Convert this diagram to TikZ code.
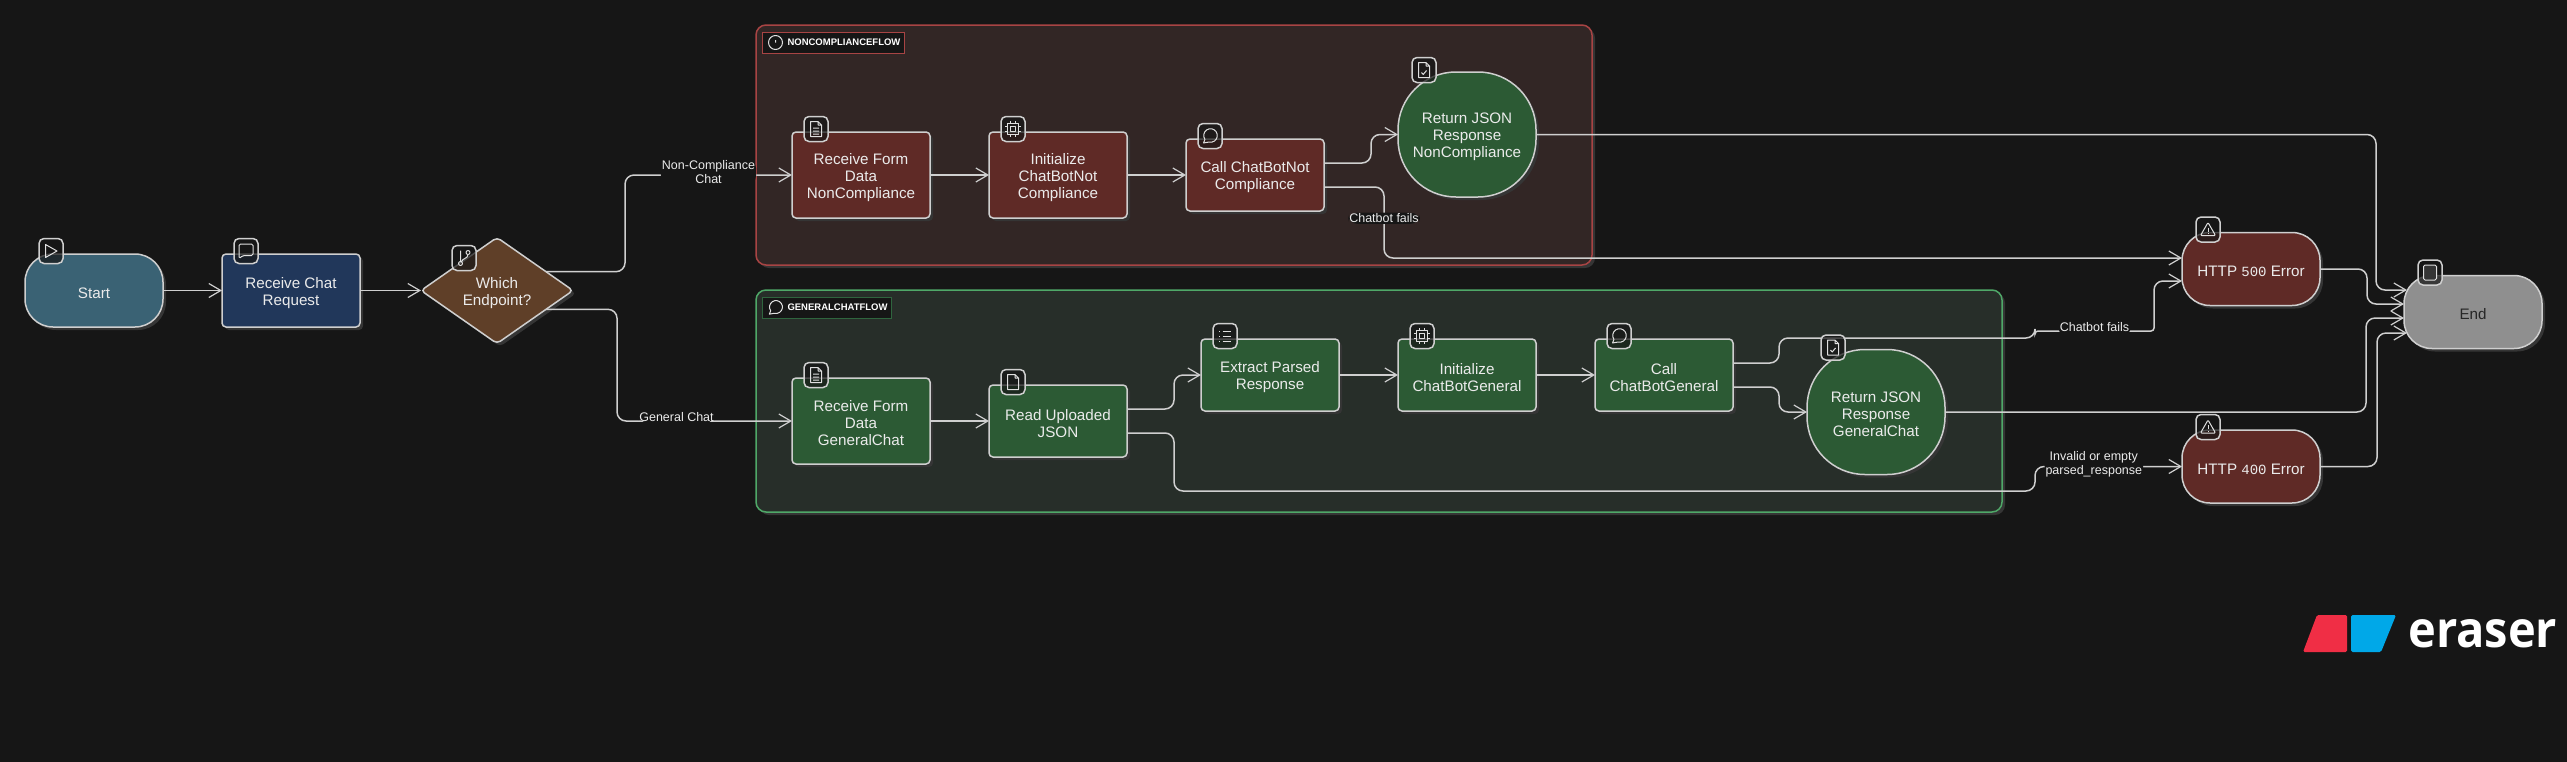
\documentclass[tikz,border=0pt]{standalone}
\usepackage{fontspec}
\usepackage{graphicx}
\setmainfont{Liberation Sans}
\newfontfamily\numfont{Liberation Mono}
\newfontfamily\logofont{Open Sans}
\usetikzlibrary{positioning,shapes.geometric,shadows,arrows.meta}
\definecolor{pagedark}{HTML}{161616}
\definecolor{edgegray}{HTML}{CFCFCF}
\definecolor{shadegray}{HTML}{353535}
\definecolor{startblue}{HTML}{3A6274}
\definecolor{navy}{HTML}{21375A}
\definecolor{brown}{HTML}{5F3F28}
\definecolor{darkred}{HTML}{5F2A26}
\definecolor{darkgreen}{HTML}{2C5A34}
\definecolor{endgray}{HTML}{8F8F8F}
\definecolor{flowred}{HTML}{322625}
\definecolor{flowgreen}{HTML}{272E29}
\definecolor{rimred}{HTML}{A84444}
\definecolor{rimgreen}{HTML}{4FA868}
\definecolor{logored}{HTML}{F02E45}
\definecolor{logoblue}{HTML}{00A8E8}
\newcommand{\topgap}{\rule{0pt}{15.5pt}}
\tikzset{
  base/.style={draw=edgegray,line width=1.5pt,text=white!92!black,align=center,inner sep=0pt,outer sep=0pt,
    font=\fontsize{15.2}{17}\selectfont,
    drop shadow={shadow xshift=3pt,shadow yshift=-3pt,fill=shadegray,opacity=1}},
  stepbox/.style={base,rectangle,rounded corners=4pt,minimum width=138pt,minimum height=#1},
  stepbox/.default=72pt,
  soft/.style={base,rectangle,rounded corners=28pt,minimum width=138pt,minimum height=73pt},
  blob/.style={base,rectangle,rounded corners=58pt,minimum width=138pt,minimum height=125pt,fill=darkgreen},
  flowbox/.style={rectangle,rounded corners=10pt,line width=1.5pt,outer sep=0pt,
    drop shadow={shadow xshift=3pt,shadow yshift=-3pt,fill=shadegray,opacity=1}},
  flowtag/.style={rectangle,anchor=north west,line width=.7pt,fill=pagedark,text=white,inner xsep=4pt,inner ysep=0pt,
    minimum height=21pt,outer sep=0pt,font=\bfseries\fontsize{9.5}{11}\selectfont},
  iconbox/.style={rectangle,rounded corners=5pt,draw=edgegray,line width=1.5pt,fill=pagedark,fill opacity=.72,
    minimum width=24pt,minimum height=25pt,inner sep=0pt,outer sep=0pt},
  glyph/.style={draw=white!88!black,line width=1pt,line join=round},
  flow/.style={->,draw=edgegray,line width=1.5pt,rounded corners=9pt},
  flowlabel/.style={text=white!92!black,fill=pagedark,align=center,inner sep=1pt,
    font=\fontsize{12.5}{14}\selectfont},
  >={Straight Barb[length=12pt,width=14pt,line width=1.2pt]},
  playicon/.pic={\draw[glyph] (-5.5,6.5) -- (6,0) -- (-5.5,-6.5) -- cycle;},
  chaticon/.pic={\draw[glyph,rounded corners=1.5pt] (-7,7) -- (7,7) -- (7,-4.5) -- (-3,-4.5) -- (-7,-7.5) -- cycle;},
  branchicon/.pic={\draw[glyph] (-3.5,-5.5) circle (2) (4,5.5) circle (2) (-3.5,7.5) -- (-3.5,-3.5)
    (4,3.5) .. controls (4,-1) and (-2,0) .. (-2.4,-3.8);},
  filetexticon/.pic={\draw[glyph] (-5.5,7.5) -- (2,7.5) -- (5.5,4) -- (5.5,-7.5) -- (-5.5,-7.5) -- cycle
    (2,7.5) -- (2,4) -- (5.5,4) (-3,1) -- (3,1) (-3,-2) -- (3,-2) (-3,-5) -- (3,-5);},
  fileicon/.pic={\draw[glyph] (-5.5,7.5) -- (2,7.5) -- (5.5,4) -- (5.5,-7.5) -- (-5.5,-7.5) -- cycle
    (2,7.5) -- (2,4) -- (5.5,4);},
  filecheckicon/.pic={\draw[glyph] (-5.5,7.5) -- (2,7.5) -- (5.5,4) -- (5.5,-7.5) -- (-5.5,-7.5) -- cycle
    (2,7.5) -- (2,4) -- (5.5,4) (-2.5,-2.5) -- (-.8,-4.5) -- (2.5,-.5);},
  cpuicon/.pic={\draw[glyph] (-5.5,-5.5) rectangle (5.5,5.5) (-2.5,-2.5) rectangle (2.5,2.5)
    (-2.5,5.5) -- (-2.5,8) (2.5,5.5) -- (2.5,8) (-2.5,-5.5) -- (-2.5,-8) (2.5,-5.5) -- (2.5,-8)
    (-5.5,2.5) -- (-8,2.5) (-5.5,-2.5) -- (-8,-2.5) (5.5,2.5) -- (8,2.5) (5.5,-2.5) -- (8,-2.5);},
  msgicon/.pic={\draw[glyph] (-6.5,-7) -- (-5.07,-3.4) arc[start angle=215,end angle=-105,radius=6.8] -- cycle;},
  listicon/.pic={\draw[glyph] (-2.5,5) -- (6,5) (-2.5,0) -- (6,0) (-2.5,-5) -- (6,-5)
    (-6,5) -- (-5,5) (-6,0) -- (-5,0) (-6,-5) -- (-5,-5);},
  alerticon/.pic={\draw[glyph,rounded corners=1pt] (0,7) -- (7.5,-6) -- (-7.5,-6) -- cycle;
    \draw[glyph] (0,2) -- (0,-2) (0,-3.6) -- (0,-4.2);},
  squareicon/.pic={\draw[glyph,fill=shadegray,rounded corners=1.5pt] (-6.5,-7.5) rectangle (6.5,7.5);},
  circleicon/.pic={\draw[glyph] (0,0) circle (7) (0,2.5) -- (0,0);}
}
\begin{document}
\begin{tikzpicture}[x=1pt,y=1pt,on grid]
    \useasboundingbox (0,0) rectangle (2567,-761);
    \fill[pagedark] (-3,3) rectangle (2570,-764);
    % the two flow frames
    \node[flowbox,draw=rimred,fill=flowred,minimum width=836pt,minimum height=240pt] (Flow_N) at (1174,-145) {};
    \node[flowbox,draw=rimgreen,fill=flowgreen,minimum width=1246pt,minimum height=222pt] (Flow_G) at (1379,-401) {};
    \node[flowtag,draw=rimred] (Tag_N) at ([xshift=6.5pt,yshift=-7pt]Flow_N.north west) {\hspace*{21pt}NONCOMPLIANCEFLOW};
    \node[flowtag,draw=rimgreen!60!black] (Tag_G) at ([xshift=6.5pt,yshift=-7pt]Flow_G.north west) {\hspace*{21pt}GENERALCHATFLOW};
    % left side
    \node[soft,fill=startblue] (Start) at (94,-290.5) {\topgap Start};
    \node[stepbox=73pt,fill=navy] (Recv) [right=197pt of Start] {\topgap Receive Chat\\Request};
    \node[base,diamond,aspect=1.43,rounded corners=4pt,fill=brown,minimum width=152pt,minimum height=106pt] (Which) [right=206pt of Recv] {\topgap Which\\Endpoint?};
    % upper flow
    \node[stepbox=86pt,fill=darkred] (Form_N) at (861,-175) {\topgap Receive Form\\Data\\NonCompliance};
    \node[stepbox=86pt,fill=darkred] (Init_N) [right=197pt of Form_N] {\topgap Initialize\\ChatBotNot\\Compliance};
    \node[stepbox,fill=darkred] (Call_N) [right=197pt of Init_N] {\topgap Call ChatBotNot\\Compliance};
    \node[blob] (Ret_N) [above right=40.5pt and 212pt of Call_N] {\topgap Return JSON\\Response\\NonCompliance};
    % lower flow
    \node[stepbox=86pt,fill=darkgreen] (Form_G) at (861,-421) {\topgap Receive Form\\Data\\GeneralChat};
    \node[stepbox,fill=darkgreen] (Read_G) [right=197pt of Form_G] {\topgap Read Uploaded\\JSON};
    \node[stepbox,fill=darkgreen] (Ext_G) [above right=46pt and 212pt of Read_G] {\topgap Extract Parsed\\Response};
    \node[stepbox,fill=darkgreen] (Init_G) [right=197pt of Ext_G] {\topgap Initialize\\ChatBotGeneral};
    \node[stepbox,fill=darkgreen] (Call_G) [right=197pt of Init_G] {\topgap Call\\ChatBotGeneral};
    \node[blob] (Ret_G) [below right=37pt and 212pt of Call_G] {\topgap Return JSON\\Response\\GeneralChat};
    % right side
    \node[soft,fill=darkred] (Err_5) at (2251,-269) {\topgap HTTP {\numfont\fontsize{14}{17}\selectfont 500} Error};
    \node[soft,fill=darkred] (Err_4) [below=197.5pt of Err_5] {\topgap HTTP {\numfont\fontsize{14}{17}\selectfont 400} Error};
    \node[soft,fill=endgray,text=black!85] (End) at (2473,-312) {\topgap End};
    % connectors
    \path[flow]
        (Start) edge (Recv)
        (Recv) edge (Which)
        (Form_N) edge (Init_N)
        (Init_N) edge (Call_N)
        (Form_G) edge (Read_G)
        (Ext_G) edge (Init_G)
        (Init_G) edge (Call_G);
    \draw[flow] (Which.21) -- ++(79,0) |- node[flowlabel,pos=.75,yshift=3pt] {Non-Compliance\\Chat} (Form_N.west);
    \draw[flow] (Which.-21) -- ++(71,0) |- node[flowlabel,pos=.67,yshift=4pt] {General Chat} (Form_G.west);
    \draw[flow] ([yshift=12pt]Call_N.east) -- ++(47,0) |- (Ret_N.west);
    \draw[flow] ([yshift=-12pt]Call_N.east) -- ++(60,0) |- node[flowlabel,pos=.22] {Chatbot fails} ([yshift=11pt]Err_5.west);
    \draw[flow] (Ret_N.east) -- ++(840,0) |- ([xshift=3pt,yshift=22pt]End.west);
    \draw[flow] ([yshift=12pt]Read_G.east) -- ++(47,0) |- (Ext_G.west);
    \draw[flow] ([yshift=-12pt]Read_G.east) -- ++(47,0) -- ++(0,-58) -- ++(861,0) |- node[flowlabel,pos=.70,yshift=2pt] {Invalid or empty\\parsed\_response} (Err_4.west);
    \draw[flow] ([yshift=12pt]Call_G.east) -- ++(46,0) -- ++(0,25) -- ++(256,0) [rounded corners=3pt] -- ++(0,7)
        [rounded corners=3pt] -- node[flowlabel,yshift=4pt] {Chatbot fails} ++(119,0) [rounded corners=9pt] |- ([yshift=-12pt]Err_5.west);
    \draw[flow] ([yshift=-12pt]Call_G.east) -- ++(46,0) |- (Ret_G.west);
    \draw[flow] (Ret_G.east) -- ++(421,0) |- ([yshift=-6pt]End.west);
    \draw[flow] (Err_5.east) -- ++(47,0) |- ([yshift=8pt]End.west);
    \draw[flow] (Err_4.east) -- ++(57,0) |- ([xshift=3pt,yshift=-21pt]End.west);
    % icon badges
    \node[iconbox] (I_start) at ([xshift=26pt,yshift=3pt]Start.north west) {};
    \pic at (I_start) {playicon};
    \node[iconbox] (I_recv) at ([xshift=24pt,yshift=3pt]Recv.north west) {};
    \pic at (I_recv) {chaticon};
    \node[iconbox] (I_which) at ([xshift=-33pt,yshift=32.5pt]Which.center) {};
    \pic at (I_which) {branchicon};
    \node[iconbox] (I_form_n) at ([xshift=24pt,yshift=3pt]Form_N.north west) {};
    \pic at (I_form_n) {filetexticon};
    \node[iconbox] (I_init_n) at ([xshift=24pt,yshift=3pt]Init_N.north west) {};
    \pic at (I_init_n) {cpuicon};
    \node[iconbox] (I_call_n) at ([xshift=24pt,yshift=3pt]Call_N.north west) {};
    \pic at (I_call_n) {msgicon};
    \node[iconbox] (I_ret_n) at ([xshift=26pt,yshift=2pt]Ret_N.north west) {};
    \pic at (I_ret_n) {filecheckicon};
    \node[iconbox] (I_form_g) at ([xshift=24pt,yshift=3pt]Form_G.north west) {};
    \pic at (I_form_g) {filetexticon};
    \node[iconbox] (I_read_g) at ([xshift=24pt,yshift=3pt]Read_G.north west) {};
    \pic at (I_read_g) {fileicon};
    \node[iconbox] (I_ext_g) at ([xshift=24pt,yshift=3pt]Ext_G.north west) {};
    \pic at (I_ext_g) {listicon};
    \node[iconbox] (I_init_g) at ([xshift=24pt,yshift=3pt]Init_G.north west) {};
    \pic at (I_init_g) {cpuicon};
    \node[iconbox] (I_call_g) at ([xshift=24pt,yshift=3pt]Call_G.north west) {};
    \pic at (I_call_g) {msgicon};
    \node[iconbox] (I_ret_g) at ([xshift=26pt,yshift=2pt]Ret_G.north west) {};
    \pic at (I_ret_g) {filecheckicon};
    \node[iconbox] (I_err_5) at ([xshift=26pt,yshift=3pt]Err_5.north west) {};
    \pic at (I_err_5) {alerticon};
    \node[iconbox] (I_err_4) at ([xshift=26pt,yshift=3pt]Err_4.north west) {};
    \pic at (I_err_4) {alerticon};
    \node[iconbox] (I_end) at ([xshift=26pt,yshift=3pt]End.north west) {};
    \pic at (I_end) {squareicon};
    \pic at ([xshift=13pt]Tag_N.west) {circleicon};
    \pic[scale=.95] at ([xshift=13pt]Tag_G.west) {msgicon};
    % eraser mark
    \fill[logored,rounded corners=1.5pt] (2317,-615) -- (2347,-615) -- (2347,-652) -- (2303,-652) -- cycle;
    \fill[logoblue,rounded corners=1.5pt] (2351,-615) -- (2396,-615) -- (2381,-652) -- (2351,-652) -- cycle;
    \node[anchor=base west,inner sep=0pt,text=white,font=\logofont\bfseries] (Logo) at (2408,-647) {\resizebox{149pt}{28pt}{eraser}};
\end{tikzpicture}
\end{document}
